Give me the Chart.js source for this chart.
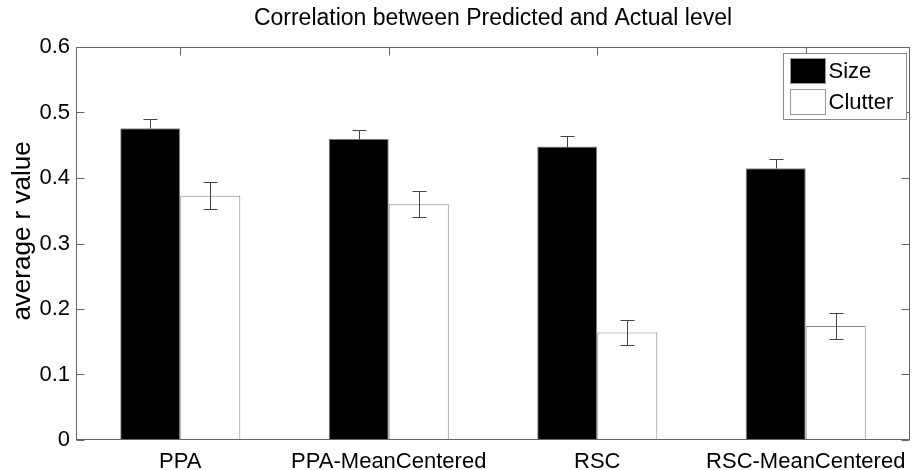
<!DOCTYPE html>
<html>
<head>
<meta charset="utf-8">
<script src="https://cdn.jsdelivr.net/npm/chart.js@4/dist/chart.umd.min.js"></script>
<style>
  html, body { margin: 0; padding: 0; background: #fff; }
  #wrap { width: 915px; height: 470px; }
</style>
</head>
<body>
<div id="wrap"><canvas id="chart"></canvas></div>
<script>
// data
const methods = ['PPA', 'PPA-MeanCentered', 'RSC', 'RSC-MeanCentered'];
const sizeR = [0.476, 0.460, 0.448, 0.415];
const sizeErr = [0.014, 0.013, 0.016, 0.014];
const clutterR = [0.373, 0.360, 0.164, 0.174];
const clutterErr = [0.021, 0.020, 0.019, 0.020];
const yTicks = [0, 0.1, 0.2, 0.3, 0.4, 0.5, 0.6];
const chartTitle = 'Correlation between Predicted and Actual level';
const yTitle = 'average r value';

const FONT = "'Liberation Sans', Arial, Helvetica, sans-serif";
const AXIS = '#666';

// error bars on top of each bar (the half inside a black bar can't be seen)
const errorBars = {
  id: 'errorBars',
  afterDatasetsDraw(chart) {
    const ctx = chart.ctx;
    const y = chart.scales.y;
    ctx.save();
    ctx.strokeStyle = '#444';
    ctx.lineWidth = 1;
    chart.data.datasets.forEach((ds, di) => {
      const meta = chart.getDatasetMeta(di);
      const dark = ds.backgroundColor === '#000';
      meta.data.forEach((bar, i) => {
        const x = Math.round(bar.x) + 0.5;
        const mid = Math.round(y.getPixelForValue(ds.data[i])) + 0.5;
        const top = Math.round(y.getPixelForValue(ds.data[i] + ds.err[i])) + 0.5;
        const bot = Math.round(y.getPixelForValue(ds.data[i] - ds.err[i])) + 0.5;
        ctx.beginPath();
        ctx.moveTo(x - 7, top); ctx.lineTo(x + 7, top);
        if (dark) {
          ctx.moveTo(x, top); ctx.lineTo(x, mid);
        } else {
          ctx.moveTo(x, top); ctx.lineTo(x, bot);
          ctx.moveTo(x - 7, bot); ctx.lineTo(x + 7, bot);
        }
        ctx.stroke();
      });
    });
    ctx.restore();
  }
};

// matlab style box, inward ticks, titles and legend
const frame = {
  id: 'frame',
  afterDraw(chart) {
    const ctx = chart.ctx;
    const a = chart.chartArea;
    const L = Math.round(a.left) + 0.5, R = Math.round(a.right) - 0.5;
    const T = Math.round(a.top) + 0.5, B = Math.round(a.bottom) - 0.5;
    ctx.save();
    ctx.strokeStyle = AXIS;
    ctx.lineWidth = 1;
    ctx.strokeRect(L, T, R - L, B - T);
    ctx.beginPath();
    yTicks.forEach(v => {
      const py = Math.round(chart.scales.y.getPixelForValue(v)) + 0.5;
      ctx.moveTo(L, py); ctx.lineTo(L + 8, py);
      ctx.moveTo(R, py); ctx.lineTo(R - 8, py);
    });
    methods.forEach((m, i) => {
      const px = Math.round(chart.scales.x.getPixelForValue(i)) + 0.5;
      ctx.moveTo(px, T); ctx.lineTo(px, T + 8);
    });
    ctx.stroke();

    // title
    ctx.fillStyle = '#000';
    ctx.font = '23px ' + FONT;
    ctx.textAlign = 'center';
    ctx.textBaseline = 'middle';
    ctx.fillText(chartTitle, (a.left + a.right) / 2, 19);

    // y axis title
    ctx.save();
    ctx.translate(23, 231);
    ctx.rotate(-Math.PI / 2);
    ctx.font = '26px ' + FONT;
    ctx.fillText(yTitle, 0, 0);
    ctx.restore();

    // legend
    const lx = 783.5, ly = 53.5, lw = 123, lh = 66;
    ctx.fillStyle = '#fff';
    ctx.fillRect(lx, ly, lw, lh);
    ctx.strokeStyle = '#888';
    ctx.strokeRect(lx, ly, lw, lh);
    ctx.font = '22px ' + FONT;
    ctx.textAlign = 'left';
    chart.data.datasets.forEach((ds, i) => {
      const sy = ly + 5 + i * 31;
      ctx.fillStyle = ds.backgroundColor;
      ctx.fillRect(lx + 7, sy, 35, 25);
      ctx.strokeStyle = '#999';
      ctx.strokeRect(lx + 7, sy, 35, 25);
      ctx.fillStyle = '#000';
      ctx.fillText(ds.label, lx + 45, sy + 13);
    });
    ctx.restore();
  }
};

new Chart(document.getElementById('chart'), {
  type: 'bar',
  data: {
    labels: methods,
    datasets: [
      { label: 'Size', data: sizeR, err: sizeErr, backgroundColor: '#000', borderColor: '#888', borderWidth: 1 },
      { label: 'Clutter', data: clutterR, err: clutterErr, backgroundColor: '#fff', borderColor: '#888', borderWidth: 1 }
    ]
  },
  options: {
    responsive: true,
    maintainAspectRatio: false,
    animation: false,
    categoryPercentage: 0.576,
    barPercentage: 1,
    layout: { padding: { top: 47, right: 5, left: 0, bottom: 0 } },
    plugins: { legend: { display: false }, title: { display: false }, tooltip: { enabled: false } },
    scales: {
      x: {
        grid: { display: false, drawTicks: false },
        border: { display: false },
        ticks: { color: '#000', font: { family: FONT, size: 22 }, padding: 9, maxRotation: 0, autoSkip: false },
        afterFit(s) { s.height = 30; }
      },
      y: {
        min: 0, max: 0.6,
        grid: { display: false, drawTicks: false },
        border: { display: false },
        ticks: { stepSize: 0.1, color: '#000', font: { family: FONT, size: 22 }, padding: 6 },
        afterFit(s) { s.width = 76; }
      }
    }
  },
  plugins: [errorBars, frame]
});
</script>
</body>
</html>
